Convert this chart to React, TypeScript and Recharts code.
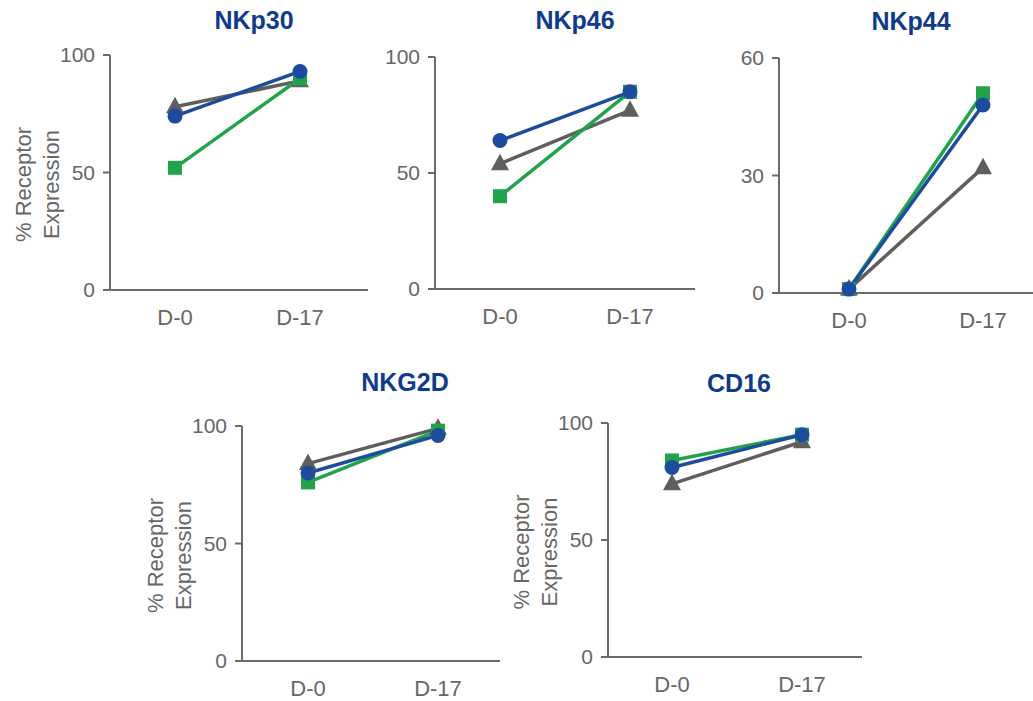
import { Label, Line, LineChart, XAxis, YAxis } from "recharts";

const DAYS = ["D-0", "D-17"];
const TITLES = ["NKp30", "NKp46", "NKp44", "NKG2D", "CD16"];

// one pair of values (D-0, D-17) per panel
const BLUE = [
  [74, 93],
  [64, 85],
  [1, 48],
  [80, 96],
  [81, 95],
];
const GREEN = [
  [52, 90],
  [40, 85],
  [1, 51],
  [76, 98],
  [84, 95],
];
const GRAY = [
  [78, 89],
  [54, 77],
  [1, 32],
  [84, 99],
  [74, 92],
];
const Y_TICKS = [
  [0, 50, 100],
  [0, 50, 100],
  [0, 30, 60],
  [0, 50, 100],
  [0, 50, 100],
];

const LAYOUT = [
  { axisX: 110, top: 55, bottom: 290, right: 368, d0: 175, d17: 300, titleX: 254, titleY: 20, yLabel: true },
  { axisX: 435, top: 57, bottom: 289, right: 695, d0: 500, d17: 630, titleX: 575, titleY: 20, yLabel: false },
  { axisX: 779, top: 58, bottom: 293, right: 1033, d0: 849, d17: 983, titleX: 911, titleY: 21, yLabel: false },
  { axisX: 242, top: 426, bottom: 661, right: 500, d0: 308, d17: 438, titleX: 405, titleY: 382, yLabel: true },
  { axisX: 608, top: 423, bottom: 657, right: 862, d0: 672, d17: 802, titleX: 739, titleY: 383, yLabel: true },
];

const C_BLUE = "#1d4c9e";
const C_GREEN = "#22a34b";
const C_GRAY = "#5e5e5e";
const C_AXIS = "#6b6b6b";
const C_TEXT = "#666666";
const C_TITLE = "#0f3b8c";
const FONT = "'Liberation Sans', Arial, sans-serif";

const Y_W = 110;
const X_H = 40;

const circleDot = (p: any) => (
  <circle key={`c${p.index}`} cx={p.cx} cy={p.cy} r={7.5} fill={C_BLUE} />
);
const squareDot = (p: any) => (
  <rect key={`s${p.index}`} x={p.cx - 7} y={p.cy - 7} width={14} height={14} fill={C_GREEN} />
);
const triangleDot = (p: any) => (
  <polygon
    key={`t${p.index}`}
    points={`${p.cx},${p.cy - 10} ${p.cx - 9},${p.cy + 6.5} ${p.cx + 9},${p.cy + 6.5}`}
    fill={C_GRAY}
  />
);

const YLabel = (props: any) => {
  const vb = props.viewBox;
  const lineX = vb.x + vb.width;
  const cx = lineX - 73;
  const cy = vb.y + vb.height / 2 + 12;
  return (
    <text
      transform={`rotate(-90, ${cx}, ${cy})`}
      x={cx}
      y={cy}
      textAnchor="middle"
      fill={C_TEXT}
      fontSize={22}
      fontFamily={FONT}
    >
      <tspan x={cx} y={cy - 6}>
        % Receptor
      </tspan>
      <tspan x={cx} y={cy + 22}>
        Expression
      </tspan>
    </text>
  );
};

function Panel({ i }: { i: number }) {
  const l = LAYOUT[i];
  const data = DAYS.map((d, k) => ({
    day: d,
    blue: BLUE[i][k],
    green: GREEN[i][k],
    gray: GRAY[i][k],
  }));
  const ticks = Y_TICKS[i];
  const left = l.axisX - Y_W;
  const mTop = 12;
  const chartTop = l.top - mTop;
  const width = l.right - left;
  const height = l.bottom - chartTop + X_H;

  return (
    <>
      <div
        style={{
          position: "absolute",
          left: l.titleX,
          top: l.titleY,
          transform: "translate(-50%, -50%)",
          fontFamily: FONT,
          fontWeight: 700,
          fontSize: 25,
          color: C_TITLE,
          whiteSpace: "nowrap",
        }}
      >
        {TITLES[i]}
      </div>
      <div style={{ position: "absolute", left, top: chartTop }}>
        <LineChart
          width={width}
          height={height}
          data={data}
          margin={{ top: mTop, right: 0, bottom: 0, left: 0 }}
        >
          <XAxis
            dataKey="day"
            height={X_H}
            padding={{ left: l.d0 - l.axisX, right: l.right - l.d17 }}
            axisLine={{ stroke: C_AXIS, strokeWidth: 2 }}
            tickLine={false}
            tickSize={0}
            tickMargin={19}
            tick={{ fill: C_TEXT, fontSize: 22, fontFamily: FONT }}
          />
          <YAxis
            width={Y_W}
            domain={[0, ticks[ticks.length - 1]]}
            ticks={ticks}
            interval={0}
            axisLine={{ stroke: C_AXIS, strokeWidth: 2 }}
            tickLine={{ stroke: C_AXIS, strokeWidth: 2 }}
            tickSize={7}
            tickMargin={8}
            tick={{ fill: C_TEXT, fontSize: 21, fontFamily: FONT }}
          >
            {l.yLabel && <Label content={YLabel} />}
          </YAxis>
          <Line
            dataKey="gray"
            stroke={C_GRAY}
            strokeWidth={3.5}
            dot={triangleDot}
            activeDot={false}
            isAnimationActive={false}
          />
          <Line
            dataKey="green"
            stroke={C_GREEN}
            strokeWidth={3.5}
            dot={squareDot}
            activeDot={false}
            isAnimationActive={false}
          />
          <Line
            dataKey="blue"
            stroke={C_BLUE}
            strokeWidth={3.5}
            dot={circleDot}
            activeDot={false}
            isAnimationActive={false}
          />
        </LineChart>
      </div>
    </>
  );
}

export default function App() {
  return (
    <div
      style={{
        position: "absolute",
        left: 0,
        top: 0,
        width: 1033,
        height: 701,
        background: "#fff",
        overflow: "hidden",
      }}
    >
      {TITLES.map((_, i) => (
        <Panel key={TITLES[i]} i={i} />
      ))}
    </div>
  );
}
